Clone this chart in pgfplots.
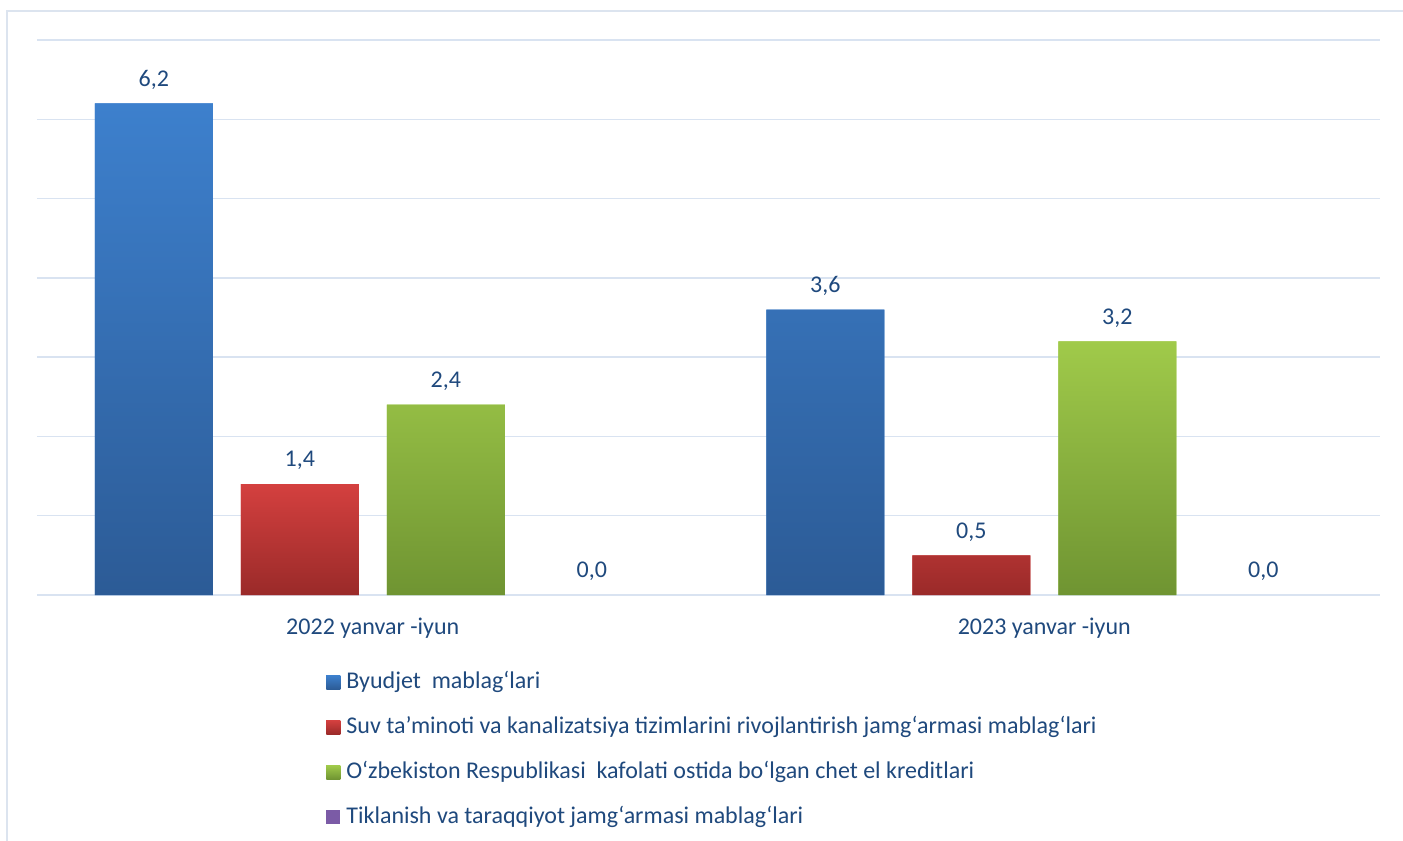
\documentclass[border=0pt]{standalone}
\usepackage{fontspec}
\setmainfont{Carlito}
\usepackage{pgfplots}
\pgfplotsset{compat=1.18}
\definecolor{txt}{HTML}{1F497D}
\definecolor{gridc}{HTML}{D9E3F1}
\definecolor{framec}{HTML}{DCE4EF}
\definecolor{blueT}{HTML}{3D80CD}
\definecolor{blueB}{HTML}{2C5B96}
\definecolor{redT}{HTML}{D4403F}
\definecolor{redB}{HTML}{9A2A29}
\definecolor{greenT}{HTML}{A0CA4A}
\definecolor{greenB}{HTML}{6F9432}
\definecolor{purp}{HTML}{7B5BA6}
\newcommand{\cfont}{\fontsize{12bp}{14.4bp}\selectfont}
\begin{document}
\begin{tikzpicture}
\useasboundingbox (-18.5bp,-123bp) rectangle (683bp,297.5bp);
\draw[framec, line width=1bp] (-15bp,-123bp) -- (-15bp,292bp) -- (683bp,292bp);
\begin{axis}[
  at={(0,0)}, anchor=south west,
  scale only axis, width=671.5bp, height=277.5bp,
  xmin=-0.5, xmax=1.5, ymin=0, ymax=7,
  ybar=14bp, bar width=59bp,
  clip=false,
  xtick={0,1}, xticklabels={2022 yanvar -iyun, 2023 yanvar -iyun},
  ytick={0,1,...,7}, yticklabels={},
  ymajorgrids, grid style={gridc, line width=0.75bp},
  axis line style={draw=none},
  major tick length=0pt,
  tick label style={font=\cfont, text=txt},
  xticklabel style={yshift=-8bp},
  nodes near coords,
  every node near coord/.append style={font=\cfont, text=txt, yshift=3.5bp},
  /pgf/number format/fixed,
  /pgf/number format/fixed zerofill,
  /pgf/number format/precision=1,
  /pgf/number format/use comma,
  /pgf/number format/assume math mode=true,
  legend cell align=left,
  legend style={at={(0.2152,-0.1351)}, anchor=north west, draw=none, fill=none,
    inner sep=0pt, row sep=10.5bp, font=\cfont, text=txt,
    nodes={inner sep=0pt, text height=9bp, text depth=3bp}},
  legend image code/.code={\path[#1,draw=none] (0bp,-3.5bp) rectangle (7bp,3.5bp); \path (10bp,0bp);},
]
\addplot[draw=none, fill=blueT, top color=blueT, bottom color=blueB] coordinates {(0,6.2) (1,3.6)};
\addplot[draw=none, fill=redT, top color=redT, bottom color=redB] coordinates {(0,1.4) (1,0.5)};
\addplot[draw=none, fill=greenT, top color=greenT, bottom color=greenB] coordinates {(0,2.4) (1,3.2)};
\addplot[draw=none, fill=none,
  legend image code/.code={\fill[purp] (0bp,-3.5bp) rectangle (7bp,3.5bp); \path (10bp,0bp);}]
  coordinates {(0,0) (1,0)};
\legend{Byudjet\ \ mablag‘lari,
Suv ta’minoti va kanalizatsiya tizimlarini rivojlantirish jamg‘armasi mablag‘lari,
O‘zbekiston Respublikasi\ \ kafolati ostida bo‘lgan chet el kreditlari,
Tiklanish va taraqqiyot jamg‘armasi mablag‘lari}
\end{axis}
\end{tikzpicture}
\end{document}
